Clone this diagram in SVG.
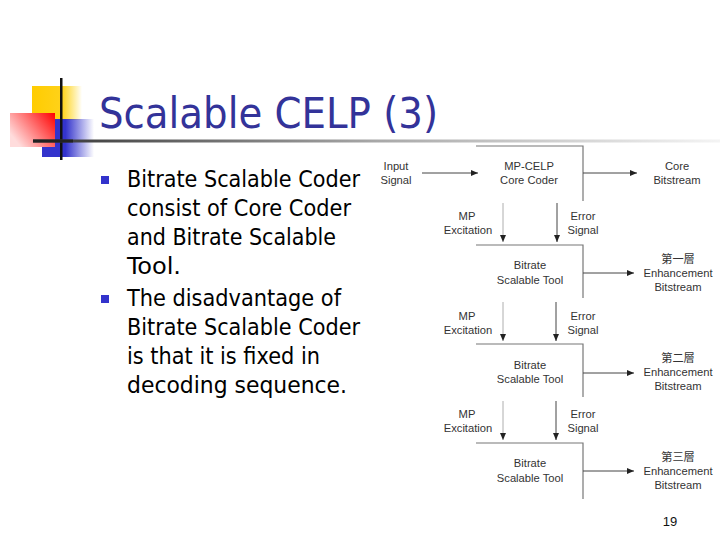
<svg xmlns="http://www.w3.org/2000/svg" width="720" height="540" viewBox="0 0 720 540">
<defs>
<linearGradient id="gY" x1="0" x2="1" y1="0" y2="0"><stop offset="0" stop-color="#ffcc00"/><stop offset="0.6" stop-color="#ffd21a"/><stop offset="1" stop-color="#ffd200" stop-opacity="0"/></linearGradient>
<linearGradient id="gB" x1="0" x2="1" y1="0" y2="0"><stop offset="0" stop-color="#3333cc"/><stop offset="0.45" stop-color="#3333cc"/><stop offset="1" stop-color="#3333cc" stop-opacity="0"/></linearGradient>
<linearGradient id="gR" x1="1" x2="0" y1="0" y2="0.6"><stop offset="0" stop-color="#ff0000"/><stop offset="0.5" stop-color="#ff6f6f"/><stop offset="1" stop-color="#ffdcdc"/></linearGradient>
<linearGradient id="gL" x1="0" x2="1" y1="0" y2="0"><stop offset="0" stop-color="#333333"/><stop offset="0.5" stop-color="#a8a8a8"/><stop offset="1" stop-color="#f4f4f4"/></linearGradient>
<marker id="ah" markerWidth="8" markerHeight="6" refX="7" refY="3" orient="auto" markerUnits="userSpaceOnUse"><path d="M0,0 L7,3 L0,6 Z" fill="#222"/></marker>
<style>
.t{font-family:"Liberation Sans",Arial,sans-serif;font-size:11.2px;fill:#333;text-anchor:middle}
.c{font-family:"Liberation Sans","Noto Sans CJK TC",sans-serif;font-size:11.2px;fill:#333;text-anchor:middle}
.b{font-family:"DejaVu Sans Condensed","DejaVu Sans",Tahoma,sans-serif;font-size:23px;fill:#000}
.ln{stroke:#777;stroke-width:1.2;fill:none}
.ar{stroke:#444;stroke-width:1;fill:none;marker-end:url(#ah)}
.ar2{stroke:#999;stroke-width:0.8;fill:none;marker-end:url(#ah)}
</style>
</defs>
<rect width="720" height="540" fill="#fff"/>
<g id="logo">
<rect x="32" y="86" width="50" height="34" fill="url(#gY)"/>
<rect x="42" y="119" width="52" height="38" fill="url(#gB)"/>
<rect x="10" y="113" width="45" height="34" fill="url(#gR)"/>
<rect x="60" y="78" width="2.5" height="82" fill="#111"/>
<rect x="33" y="139.5" width="687" height="3" fill="url(#gL)"/>
<rect x="33" y="139.5" width="40" height="3" fill="#222"/>
</g>
<text id="title" x="99" y="128" font-family="DejaVu Sans Condensed,DejaVu Sans,Tahoma,sans-serif" font-size="42" fill="#333399" textLength="339" lengthAdjust="spacingAndGlyphs">Scalable CELP (3)</text>
<g id="bullets">
<rect x="101" y="176" width="8" height="8" fill="#3333cc"/>
<rect x="101" y="295" width="8" height="8" fill="#3333cc"/>
<text class="b" x="127" y="187" textLength="233" lengthAdjust="spacingAndGlyphs">Bitrate Scalable Coder</text>
<text class="b" x="127" y="216" textLength="224" lengthAdjust="spacingAndGlyphs">consist of Core Coder</text>
<text class="b" x="127" y="245" textLength="209" lengthAdjust="spacingAndGlyphs">and Bitrate Scalable</text>
<text class="b" x="127" y="274" textLength="54" lengthAdjust="spacingAndGlyphs">Tool.</text>
<text class="b" x="127" y="306" textLength="214" lengthAdjust="spacingAndGlyphs">The disadvantage of</text>
<text class="b" x="127" y="335" textLength="233" lengthAdjust="spacingAndGlyphs">Bitrate Scalable Coder</text>
<text class="b" x="127" y="364" textLength="193" lengthAdjust="spacingAndGlyphs">is that it is fixed in</text>
<text class="b" x="127" y="393" textLength="220" lengthAdjust="spacingAndGlyphs">decoding sequence.</text>
</g>
<g id="core-coder">
<path class="ln" d="M476,146 H583 V201"/>
<text class="t" x="529" y="170">MP-CELP</text>
<text class="t" x="529" y="184">Core Coder</text>
</g>
<g id="tool1">
<path class="ln" d="M476,245 H583 V298"/>
<text class="t" x="530" y="269">Bitrate</text>
<text class="t" x="530" y="284">Scalable Tool</text>
</g>
<g id="tool2">
<path class="ln" d="M476,344 H583 V397"/>
<text class="t" x="530" y="369">Bitrate</text>
<text class="t" x="530" y="383">Scalable Tool</text>
</g>
<g id="tool3">
<path class="ln" d="M476,443 H583 V499"/>
<text class="t" x="530" y="467">Bitrate</text>
<text class="t" x="530" y="482">Scalable Tool</text>
</g>
<g id="input">
<text class="t" x="396" y="170">Input</text>
<text class="t" x="396" y="184">Signal</text>
</g>
<g id="core-bitstream">
<text class="t" x="677" y="170">Core</text>
<text class="t" x="677" y="184">Bitstream</text>
</g>
<g id="enh1">
<text class="c" x="678" y="263">第一層</text>
<text class="t" x="678" y="277">Enhancement</text>
<text class="t" x="678" y="291">Bitstream</text>
</g>
<g id="enh2">
<text class="c" x="678" y="362">第二層</text>
<text class="t" x="678" y="376">Enhancement</text>
<text class="t" x="678" y="390">Bitstream</text>
</g>
<g id="enh3">
<text class="c" x="678" y="461">第三層</text>
<text class="t" x="678" y="475">Enhancement</text>
<text class="t" x="678" y="489">Bitstream</text>
</g>
<g id="labels">
<text class="t" x="467" y="220">MP</text>
<text class="t" x="468" y="234">Excitation</text>
<text class="t" x="583" y="220">Error</text>
<text class="t" x="583" y="234">Signal</text>
<text class="t" x="467" y="320">MP</text>
<text class="t" x="468" y="334">Excitation</text>
<text class="t" x="583" y="320">Error</text>
<text class="t" x="583" y="334">Signal</text>
<text class="t" x="467" y="418">MP</text>
<text class="t" x="468" y="432">Excitation</text>
<text class="t" x="583" y="418">Error</text>
<text class="t" x="583" y="432">Signal</text>
</g>
<g id="connectors">
<path class="ar" d="M422,173 H478"/>
<path class="ar" d="M583,173 H637"/>
<path class="ar2" d="M503,203 V242"/>
<path class="ar" d="M557,203 V242"/>
<path class="ar" d="M583,273 H634"/>
<path class="ar2" d="M503,302 V341"/>
<path class="ar" d="M556,302 V341"/>
<path class="ar" d="M583,373 H634"/>
<path class="ar2" d="M503,401 V440"/>
<path class="ar" d="M556,401 V440"/>
<path class="ar" d="M583,471 H634"/>
</g>
<text id="page" x="670" y="526" font-family="Liberation Sans,Arial,sans-serif" font-size="13" fill="#111" text-anchor="middle">19</text>
</svg>
